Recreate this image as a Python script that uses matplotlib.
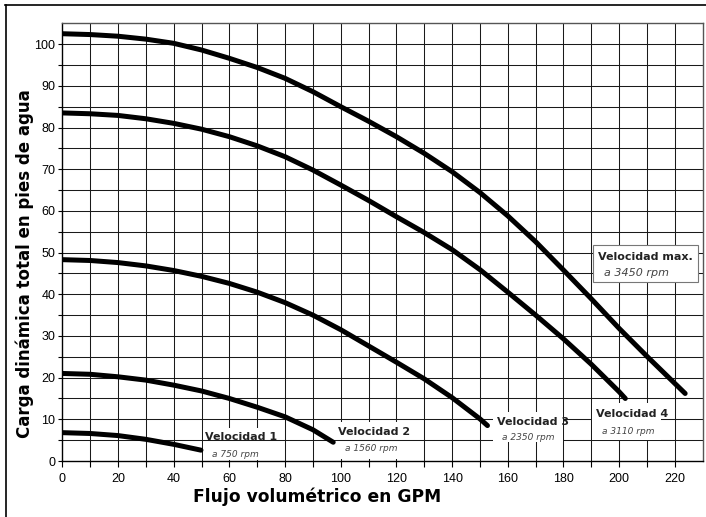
import numpy as np
import matplotlib.pyplot as plt
from matplotlib.patches import Rectangle
from matplotlib.lines import Line2D

# pump curves (GPM, ft of water)
q_max = [0, 10, 20, 30, 40, 50, 60, 70, 80, 90, 100, 110, 120, 130, 140, 150,
         160, 170, 180, 190, 200, 210, 220, 223.7]
h_max = [102.5, 102.3, 101.9, 101.2, 100.2, 98.6, 96.6, 94.4, 91.8, 88.6, 85.0,
         81.5, 77.8, 73.8, 69.4, 64.4, 58.8, 52.6, 45.8, 38.9, 31.8, 25.1, 18.6, 16.2]

q_v4 = [0, 10, 20, 30, 40, 50, 60, 70, 80, 90, 100, 110, 120, 130, 140, 150,
        160, 170, 180, 190, 200, 202.2]
h_v4 = [83.5, 83.3, 82.9, 82.1, 81.0, 79.6, 77.8, 75.6, 73.0, 69.8, 66.2, 62.5,
        58.6, 54.8, 50.7, 45.9, 40.5, 35.0, 29.3, 23.2, 16.6, 15.0]

q_v3 = [0, 10, 20, 30, 40, 50, 60, 70, 80, 90, 100, 110, 120, 130, 140, 150, 152.7]
h_v3 = [48.3, 48.1, 47.6, 46.8, 45.7, 44.3, 42.6, 40.5, 38.0, 35.0, 31.5, 27.6,
        23.7, 19.7, 15.2, 10.1, 8.5]

q_v2 = [0, 10, 20, 30, 40, 50, 60, 70, 80, 90, 97.3]
h_v2 = [21.0, 20.8, 20.2, 19.4, 18.2, 16.8, 15.0, 12.9, 10.6, 7.5, 4.5]

q_v1 = [0, 10, 20, 30, 40, 49.8]
h_v1 = [6.8, 6.6, 6.1, 5.2, 4.0, 2.6]

curves = [(q_max, h_max), (q_v4, h_v4), (q_v3, h_v3), (q_v2, h_v2), (q_v1, h_v1)]

names = ["Velocidad 1", "Velocidad 2", "Velocidad 3", "Velocidad 4"]
rpms = ["a 750 rpm", "a 1560 rpm", "a 2350 rpm", "a 3110 rpm"]
max_name = "Velocidad max."
max_rpm = "a 3450 rpm"

x_ticks = list(range(0, 221, 20))
y_ticks = list(range(0, 101, 10))

W, H = 706, 517
fig = plt.figure(figsize=(W / 100, H / 100), dpi=100)
ax = fig.add_axes([62.3 / W, 1 - 461 / H, (702.7 - 62.3) / W, (461 - 23.3) / H])
ax.set_xlim(0, 230)
ax.set_ylim(0, 105)

# grid drawn by hand so label patches can sit between vertical and horizontal lines
for xv in np.arange(10, 230, 10):
    ax.axvline(xv, color="#1a1a1a", lw=0.75, zorder=1)
for yv in np.arange(5, 105, 5):
    ax.axhline(yv, color="#1a1a1a", lw=0.75, zorder=2)

for q, h in curves:
    ax.plot(q, h, color="black", lw=3.6, solid_capstyle="round",
            solid_joinstyle="round", zorder=4)

# label patches (x0, y0, w, h, zorder)
patches = [(50.4, 0.3, 27.8, 7.6, 1.5), (98.0, 0.4, 28.0, 9.0, 1.5),
           (154.6, 4.6, 25.2, 7.2, 2.5), (190.1, 5.0, 25.1, 8.9, 2.5)]
for x0, y0, w, hh, z in patches:
    ax.add_patch(Rectangle((x0, y0), w, hh, facecolor="white", edgecolor="none", zorder=z))

name_pos = [(51.2, 5.8), (99.0, 7.0), (156.0, 9.4), (191.6, 11.3)]
rpm_pos = [(53.8, 1.5), (101.5, 2.9), (157.8, 5.6), (193.7, 7.0)]
for nm, rp, (nx, ny), (rx, ry) in zip(names, rpms, name_pos, rpm_pos):
    ax.text(nx, ny, nm, fontsize=8, fontweight="bold", color="#222222",
            ha="left", va="center", zorder=5)
    ax.text(rx, ry, rp, fontsize=6.5, style="italic", color="#444444",
            ha="left", va="center", zorder=5)

ax.add_patch(Rectangle((190.7, 42.9), 37.5, 8.9, facecolor="white",
                       edgecolor="#777777", lw=0.8, zorder=3))
ax.text(192.4, 48.9, max_name, fontsize=8, fontweight="bold", color="#222222",
        ha="left", va="center", zorder=5)
ax.text(194.5, 45.0, max_rpm, fontsize=8, style="italic", color="#444444",
        ha="left", va="center", zorder=5)

ax.set_xticks(x_ticks)
ax.set_xticks(range(10, 230, 20), minor=True)
ax.set_yticks(y_ticks)
ax.set_yticks(range(5, 105, 10), minor=True)
ax.tick_params(axis="x", which="both", direction="out", length=4, width=0.8, pad=5)
ax.tick_params(axis="y", which="both", direction="out", length=3, width=0.8, pad=2)
for lab in ax.get_xticklabels() + ax.get_yticklabels():
    lab.set_fontfamily("Liberation Sans")
    lab.set_fontsize(9)
for s in ["left", "bottom"]:
    ax.spines[s].set_color("black")
    ax.spines[s].set_linewidth(1.0)
for s in ["top", "right"]:
    ax.spines[s].set_color("#555555")
    ax.spines[s].set_linewidth(1.0)

fig.text(25 / W, 1 - 264 / H, "Carga dinámica total en pies de agua", rotation=90,
         fontsize=12, fontweight="bold", ha="center", va="center")
fig.text(317 / W, 1 - 497 / H, "Flujo volumétrico en GPM",
         fontsize=12.3, fontweight="bold", ha="center", va="center")

# page border lines (top and left)
fig.add_artist(Line2D([5 / W, 1], [1 - 5 / H, 1 - 5 / H], color="black", lw=1.2))
fig.add_artist(Line2D([6 / W, 6 / W], [0, 1 - 5 / H], color="black", lw=1.2))

fig.savefig("out.png", dpi=100)
